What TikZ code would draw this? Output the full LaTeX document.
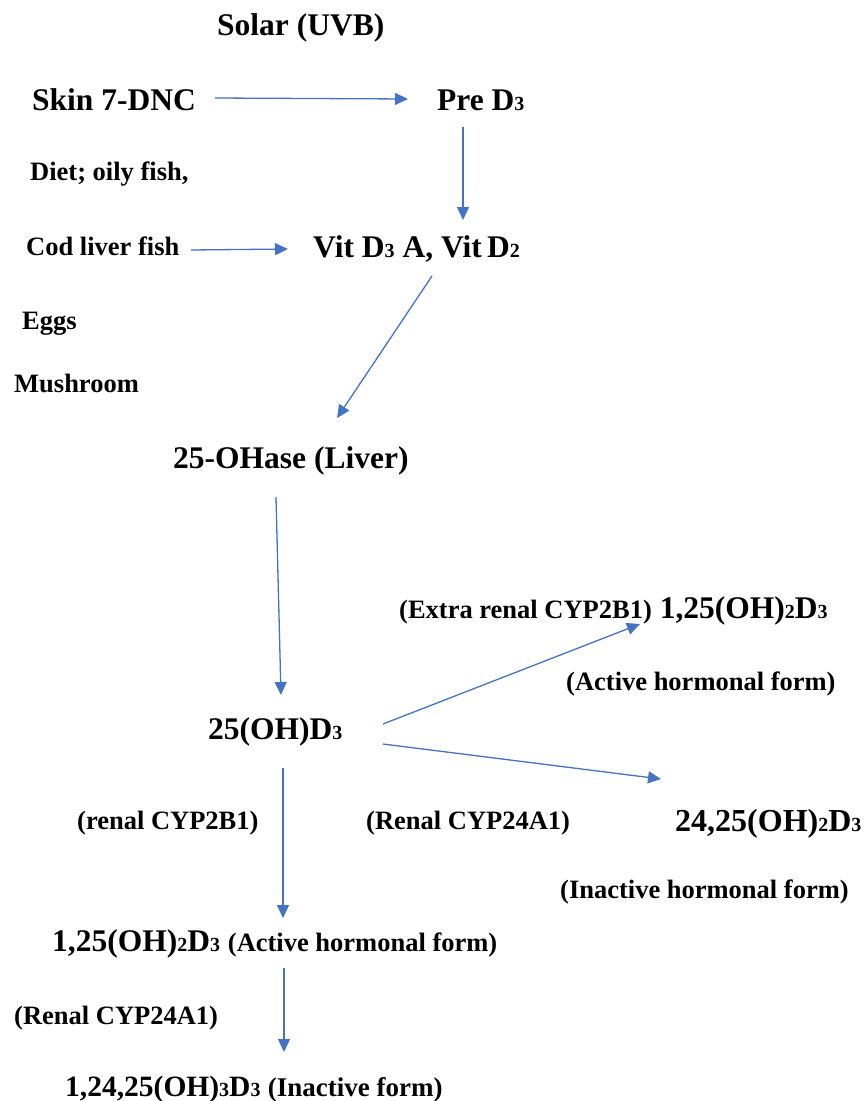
\documentclass[tikz,border=0pt]{standalone}
\usepackage{fontspec}
\setmainfont{Liberation Serif}
\usetikzlibrary{arrows.meta}
\definecolor{arrowblue}{HTML}{4472C4}
\newcommand{\bigtxt}{\fontsize{31.5}{31.5}\selectfont}
\newcommand{\smalltxt}{\fontsize{26.5}{26.5}\selectfont}
\newcommand{\subd}[1]{{\fontsize{20}{20}\selectfont #1}}
\begin{document}
\begin{tikzpicture}[x=1pt,y=-1pt,
  lbl/.style={anchor=base west,inner sep=0pt,font=\bfseries\bigtxt},
  slbl/.style={anchor=base west,inner sep=0pt,font=\bfseries\smalltxt},
  arr/.style={draw=arrowblue,line width=1.3pt,-{Triangle[length=13pt,width=12pt]},fill=arrowblue}]
\useasboundingbox (0,0) rectangle (864,1101);
\node[lbl] (solar) at (217,35) {Solar (UVB)};
\node[lbl] (skin) at (32,110) {Skin 7-DNC};
\node[lbl] (pre) at (437,110) {Pre D\subd{3}};
\node[slbl] (diet) at (30,180) {Diet; oily fish,};
\node[slbl] (cod) at (26,255) {Cod liver fish};
\node[lbl] (vit) at (313,257) {Vit D\subd{3} A, Vit\,D\subd{2}};
\node[slbl] (eggs) at (22,329) {Eggs};
\node[slbl] (mush) at (14,392) {Mushroom};
\node[lbl] (liver) at (173,468) {25-OHase (Liver)};
\node[lbl] (extra) at (399,618) {{\smalltxt(Extra renal CYP2B1)} 1,25(OH)\subd{2}D\subd{3}};
\node[slbl] (act1) at (566,690) {(Active hormonal form)};
\node[lbl] (oh) at (208,739) {25(OH)D\subd{3}};
\node[slbl] (renal1) at (77,829) {(renal CYP2B1)};
\node[slbl] (renal2) at (366,829) {(Renal CYP24A1)};
\node[lbl,font=\bfseries\fontsize{32}{32}\selectfont] (inact24) at (675,831) {24,25(OH)\subd{2}D\subd{3}};
\node[slbl] (inacthf) at (560,898) {(Inactive hormonal form)};
\node[lbl] (act2) at (52,951) {1,25(OH)\subd{2}D\subd{3} {\smalltxt(Active hormonal form)}};
\node[slbl] (renal3) at (14,1024) {(Renal CYP24A1)};
\node[lbl,font=\bfseries\fontsize{29.5}{29.5}\selectfont] (final) at (65,1096) {1,24,25(OH)\subd{3}D\subd{3} {\fontsize{27}{27}\selectfont(Inactive form)}};

\draw[arr] ([shift={(183,-12)}]skin.base west) -- ([shift={(-29,-11)}]pre.base west);
\draw[arr] ([shift={(26,17)}]pre.base west) -- ([shift={(150,-37)}]vit.base west);
\draw[arr] ([shift={(165,-5)}]cod.base west) -- ([shift={(-25,-8)}]vit.base west);
\draw[arr] ([shift={(119,19)}]vit.base west) -- ([shift={(164,-50)}]liver.base west);
\draw[arr] ([shift={(103,29)}]liver.base west) -- ([shift={(73,-44)}]oh.base west);
\draw[arr] ([shift={(175,-15)}]oh.base west) -- ([shift={(241,6)}]extra.base west);
\draw[arr] ([shift={(175,5)}]oh.base west) -- ([shift={(-14,-52)}]inact24.base west);
\draw[arr] ([shift={(75,29)}]oh.base west) -- ([shift={(231,-33)}]act2.base west);
\draw[arr] ([shift={(232,17)}]act2.base west) -- ([shift={(219,-44)}]final.base west);
\end{tikzpicture}
\end{document}
